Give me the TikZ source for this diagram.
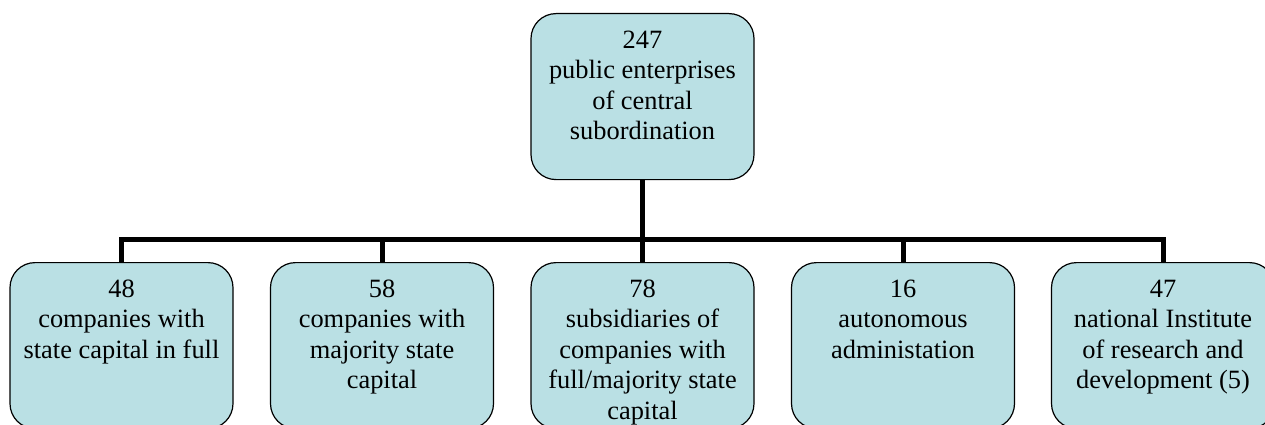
\documentclass[tikz,border=0pt]{standalone}
\usepackage{fontspec}
\setmainfont{Liberation Serif}
\definecolor{boxblue}{RGB}{186,224,228}
\begin{document}
\begin{tikzpicture}[x=1pt,y=-1pt,
  orgbox/.style={draw=black, line width=1.2pt, fill=boxblue, rounded corners=25pt,
    inner sep=0pt, anchor=north, font=\fontsize{26.4}{30.5}\selectfont},
  conn/.style={draw=black, line width=5pt, line join=miter}]
\useasboundingbox (0,0) rectangle (1265,425);
\newcommand{\boxtext}[1]{\parbox[c][166pt][t]{223pt}{\centering\rule{0pt}{34.5pt}#1}}
\node[orgbox] (top) at (642.5,13) {\boxtext{247\\public enterprises\\of central\\subordination}};
\node[orgbox] (c1) at (121.5,262) {\boxtext{48\\companies with\\state capital in full}};
\node[orgbox] (c2) at (382,262) {\boxtext{58\\companies with\\majority state\\capital}};
\node[orgbox] (c3) at (642.5,262) {\boxtext{78\\subsidiaries of\\companies with\\full/majority state\\capital}};
\node[orgbox] (c4) at (903,262) {\boxtext{16\\autonomous\\administation}};
\node[orgbox] (c5) at (1163,262) {\boxtext{47\\national Institute\\of research and\\development (5)}};
\foreach \c in {c1,c2,c3,c4,c5}{
  \draw[conn] (top.south) -- ++(0,59) -| (\c.north);
}
\end{tikzpicture}
\end{document}
